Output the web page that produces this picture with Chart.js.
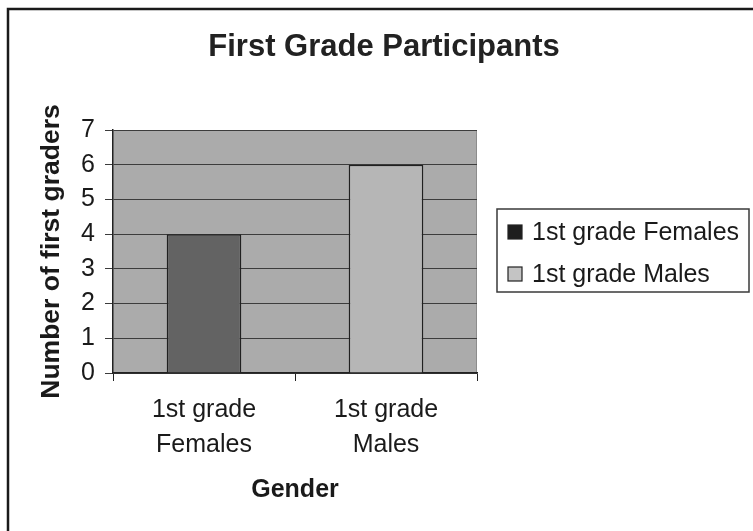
<!DOCTYPE html>
<html>
<head>
<meta charset="utf-8">
<script src="https://cdn.jsdelivr.net/npm/chart.js@4/dist/chart.umd.min.js"></script>
<style>
html,body{margin:0;padding:0;background:#fff;}
#wrap{width:753px;height:531px;position:relative;}
</style>
</head>
<body>
<div id="wrap"><canvas id="c" width="753" height="531"></canvas></div>
<script>
// ---- data ----
const categories = [["1st grade", "Females"], ["1st grade", "Males"]];
const seriesNames = ["1st grade Females", "1st grade Males"];
const femalesValues = [4, null];
const malesValues = [null, 6];
const yTicks = [0, 1, 2, 3, 4, 5, 6, 7];
const chartTitle = "First Grade Participants";
const xTitle = "Gender";
const yTitle = "Number of first graders";

const FONT = "'Liberation Sans', Arial, sans-serif";

const frame = {
  id: 'frame',
  beforeDraw(chart) {
    const {ctx, chartArea: a} = chart;
    ctx.save();
    ctx.fillStyle = '#fff';
    ctx.fillRect(0, 0, chart.width, chart.height);
    ctx.fillStyle = '#ababab';
    ctx.fillRect(a.left, a.top, a.right - a.left, a.bottom - a.top);
    ctx.strokeStyle = '#8c8c8c';
    ctx.lineWidth = 1;
    ctx.beginPath();
    ctx.moveTo(a.right - 0.5, a.top);
    ctx.lineTo(a.right - 0.5, a.bottom);
    ctx.stroke();
    ctx.restore();
  },
  afterDraw(chart) {
    const {ctx} = chart;
    ctx.save();
    // outer border
    ctx.strokeStyle = '#1a1a1a';
    ctx.lineWidth = 2.5;
    ctx.beginPath();
    ctx.moveTo(8, chart.height + 5);
    ctx.lineTo(8, 9);
    ctx.lineTo(chart.width + 5, 9);
    ctx.stroke();
    // title
    ctx.fillStyle = '#222';
    ctx.font = 'bold 31px ' + FONT;
    ctx.textAlign = 'center';
    ctx.textBaseline = 'middle';
    ctx.fillText(chartTitle, 384, 47);
    // legend
    const lx = 497, ly = 209, lw = 252, lh = 83;
    ctx.strokeStyle = '#3a3a3a';
    ctx.lineWidth = 1.5;
    ctx.strokeRect(lx, ly, lw, lh);
    const swatch = ['#1e1e1e', '#c4c4c4'];
    const rowsY = [232, 274];
    chart.data.datasets.forEach((ds, i) => {
      const y = rowsY[i];
      ctx.fillStyle = swatch[i];
      ctx.fillRect(508, y - 7, 14, 14);
      ctx.strokeStyle = '#222';
      ctx.lineWidth = 1.2;
      ctx.strokeRect(508, y - 7, 14, 14);
      ctx.fillStyle = '#1a1a1a';
      ctx.font = '25px ' + FONT;
      ctx.textBaseline = 'middle';
      ctx.textAlign = 'left';
      ctx.fillText(ds.label, 532, y + 1);
    });
    ctx.restore();
  }
};

new Chart(document.getElementById('c'), {
  type: 'bar',
  data: {
    labels: categories,
    datasets: [
      {label: seriesNames[0], data: femalesValues, backgroundColor: '#636363', borderColor: '#202020', borderWidth: 1.5},
      {label: seriesNames[1], data: malesValues, backgroundColor: '#b6b6b6', borderColor: '#202020', borderWidth: 1.5}
    ]
  },
  options: {
    responsive: false,
    animation: false,
    devicePixelRatio: 1,
    skipNull: true,
    barPercentage: 0.41,
    categoryPercentage: 1,
    layout: {padding: {left: 0, right: 276, top: 130, bottom: 0}},
    plugins: {
      legend: {display: false},
      tooltip: {enabled: false},
      title: {display: false}
    },
    scales: {
      x: {
        afterFit(s) { s.height = 158; },
        grid: {display: true, drawOnChartArea: false, drawTicks: true, tickLength: 8, color: '#222', lineWidth: 1},
        border: {display: true, color: '#222', width: 1.5},
        ticks: {color: '#1a1a1a', padding: 12, maxRotation: 0, autoSkip: false,
                font: {family: FONT, size: 25, lineHeight: 1.38}},
        title: {display: true, text: xTitle, color: '#1a1a1a', padding: {top: 0, bottom: 26},
                font: {family: FONT, size: 25, weight: 'bold', lineHeight: 1.2}}
      },
      y: {
        min: 0, max: 7,
        afterFit(s) { s.width = 113; },
        afterBuildTicks(s) { s.ticks = yTicks.map(v => ({value: v})); },
        grid: {display: true, color: '#3c3c3c', lineWidth: 1, tickLength: 8, drawTicks: true},
        border: {display: true, color: '#222', width: 1.5},
        ticks: {color: '#1a1a1a', padding: 10, font: {family: FONT, size: 25}},
        title: {display: true, text: yTitle, color: '#1a1a1a', padding: {top: 36, bottom: 0},
                font: {family: FONT, size: 26.5, weight: 'bold', lineHeight: 1.2}}
      }
    }
  },
  plugins: [frame]
});
</script>
</body>
</html>
